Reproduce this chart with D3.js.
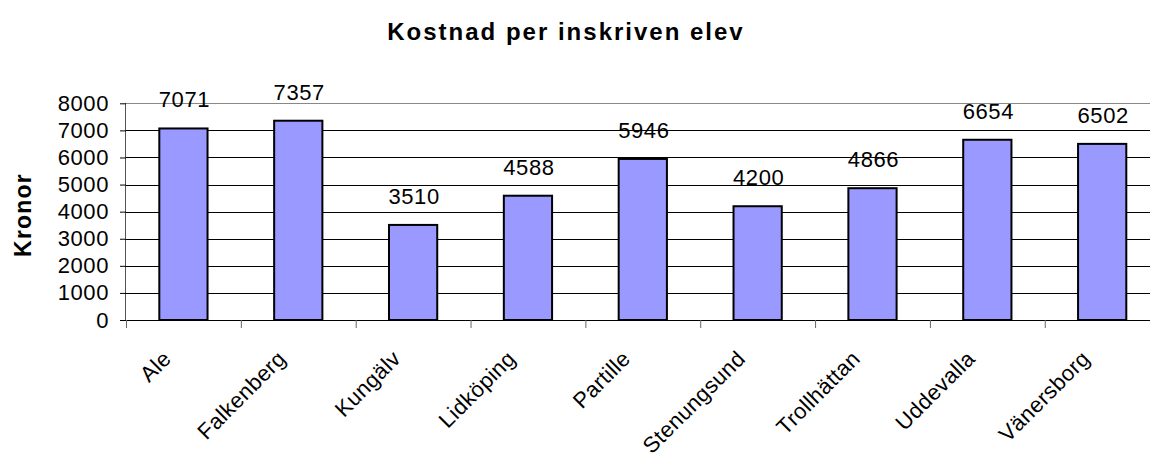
<!DOCTYPE html>
<html lang="sv">
<head>
    <meta charset="UTF-8">
    <title>Kostnad per inskriven elev</title>
    <script src="https://d3js.org/d3.v7.min.js"></script>
    <style>
        body { margin: 0; background: #fff; }
        svg { display: block; font-family: "Liberation Sans", Arial, sans-serif; }
    </style>
</head>
<body>
<svg id="chart" width="1150" height="461"></svg>
<script>
// data
const kommuner = ["Ale", "Falkenberg", "Kungälv", "Lidköping", "Partille",
                  "Stenungsund", "Trollhättan", "Uddevalla", "Vänersborg"];
const kostnad = [7071, 7357, 3510, 4588, 5946, 4200, 4866, 6654, 6502];
const yTicks = [0, 1000, 2000, 3000, 4000, 5000, 6000, 7000, 8000];

const svg = d3.select("#chart");

const plotLeft = 126, plotTop = 103.3, plotBottom = 320, plotRight = 1159.6;

const x = d3.scaleBand()
    .domain(kommuner)
    .range([plotLeft, plotRight])
    .paddingInner(0.58)
    .paddingOuter(0.29);

const y = d3.scaleLinear()
    .domain([0, 8000])
    .range([plotBottom, plotTop]);

const step = x.step();

// gridlines
svg.append("g")
    .selectAll("line")
    .data(yTicks.filter(d => d > 0))
    .join("line")
    .attr("x1", plotLeft).attr("x2", 1150)
    .attr("y1", d => Math.round(y(d)) + 0.5)
    .attr("y2", d => Math.round(y(d)) + 0.5)
    .attr("stroke", d => d === 8000 ? "#888" : "#000")
    .attr("stroke-width", 1);

// bars
svg.append("g")
    .selectAll("rect")
    .data(kostnad)
    .join("rect")
    .attr("x", (d, i) => x(kommuner[i]))
    .attr("y", d => y(d))
    .attr("width", x.bandwidth())
    .attr("height", d => plotBottom - y(d))
    .attr("fill", "#9999FF")
    .attr("stroke", "#000")
    .attr("stroke-width", 2);

// y axis
const yAxis = svg.append("g")
    .attr("transform", `translate(${plotLeft},0)`)
    .call(d3.axisLeft(y).tickValues(yTicks).tickSize(6).tickPadding(11).tickFormat(d3.format("d")));
yAxis.select(".domain").attr("stroke", "#555").attr("d", `M-0.5,${plotTop}V${plotBottom}`);
yAxis.selectAll(".tick line").attr("stroke", "#000");
yAxis.selectAll(".tick text")
    .attr("fill", "#000")
    .style("font-size", "22px")
    .style("letter-spacing", "0.6px")
    .attr("font-family", null);

// x axis line + ticks between categories
const xg = svg.append("g");
xg.append("line")
    .attr("x1", plotLeft - 6).attr("x2", 1150)
    .attr("y1", plotBottom + 0.5).attr("y2", plotBottom + 0.5)
    .attr("stroke", "#000");
xg.selectAll("line.tk")
    .data(d3.range(kommuner.length + 1))
    .join("line")
    .attr("class", "tk")
    .attr("x1", i => plotLeft + i * step + 0.5)
    .attr("x2", i => plotLeft + i * step + 0.5)
    .attr("y1", plotBottom).attr("y2", plotBottom + 8)
    .attr("stroke", "#666");

// category labels, rotated
svg.append("g")
    .selectAll("text")
    .data(kommuner)
    .join("text")
    .attr("transform", d => `translate(${x(d) + x.bandwidth() / 2 - 11},${360}) rotate(-45)`)
    .attr("text-anchor", "end")
    .style("font-size", "22px")
    .style("letter-spacing", "0.4px")
    .text(d => d);

// value labels
svg.append("g")
    .selectAll("text")
    .data(kostnad)
    .join("text")
    .attr("x", (d, i) => x(kommuner[i]) + x.bandwidth() / 2 + 1)
    .attr("y", d => y(d) - 21)
    .attr("text-anchor", "middle")
    .style("font-size", "22px")
    .style("letter-spacing", "0.6px")
    .text(d => d);

// title
svg.append("text")
    .attr("x", 566).attr("y", 40)
    .attr("text-anchor", "middle")
    .style("font-size", "24px")
    .style("font-weight", "bold")
    .style("letter-spacing", "2px")
    .text("Kostnad per inskriven elev");

// y axis title
svg.append("text")
    .attr("transform", "translate(31,215) rotate(-90)")
    .attr("text-anchor", "middle")
    .style("font-size", "23px")
    .style("font-weight", "bold")
    .style("letter-spacing", "1.2px")
    .text("Kronor");
</script>
</body>
</html>
